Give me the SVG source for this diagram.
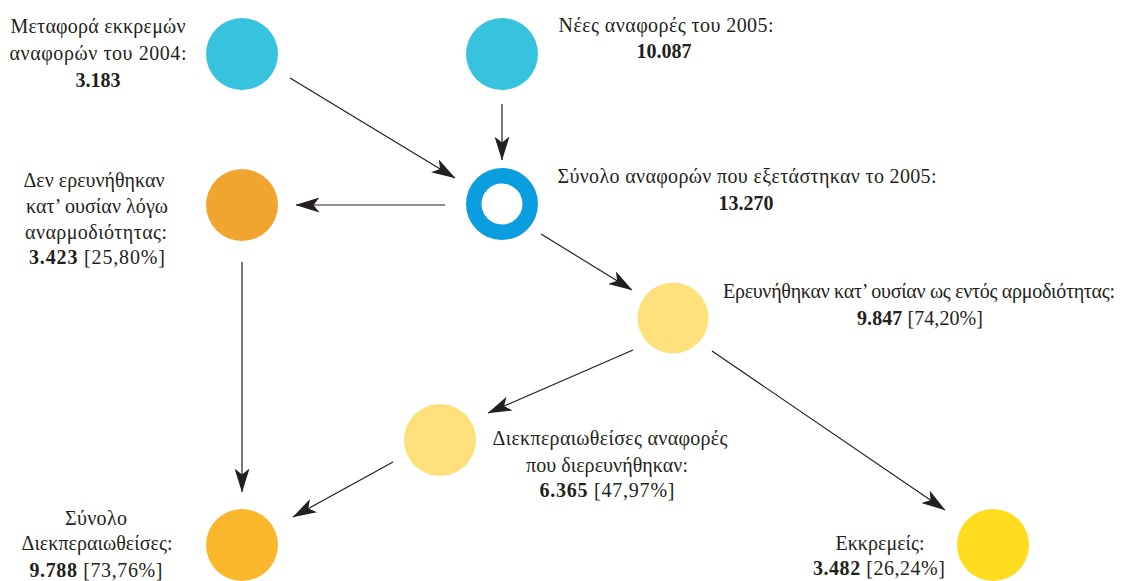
<svg xmlns="http://www.w3.org/2000/svg" width="1147" height="581" viewBox="0 0 1147 581">
<style>
text{font-family:"Liberation Serif","DejaVu Serif",serif;font-size:20px;fill:#231f20;text-anchor:middle}
.b{font-weight:bold}
.c{stroke:#231f20;stroke-width:1.2;fill:none;marker-end:url(#ah)}
</style>
<defs>
<marker id="ah" viewBox="0 0 24 15" refX="23.5" refY="7.5" markerWidth="24" markerHeight="15" markerUnits="userSpaceOnUse" orient="auto">
<path d="M0,0 L24,7.5 L0,15 L6,7.5 Z" fill="#231f20"/>
</marker>
</defs>
<rect width="1147" height="581" fill="#ffffff"/>
<g id="connectors">
<line class="c" x1="290" y1="78" x2="455" y2="178"/>
<line class="c" x1="502" y1="104" x2="502" y2="160"/>
<line class="c" x1="445" y1="205" x2="296" y2="205"/>
<line class="c" x1="541" y1="234" x2="632" y2="290"/>
<line class="c" x1="633" y1="350" x2="488" y2="413"/>
<line class="c" x1="712" y1="351" x2="945" y2="510"/>
<line class="c" x1="242" y1="262" x2="242" y2="492"/>
<line class="c" x1="393" y1="462" x2="293" y2="517"/>
</g>
<g id="n1">
<circle cx="242" cy="54" r="36" fill="#37c3de"/>
<text x="98" y="33" textLength="175">Μεταφορά εκκρεμών</text>
<text x="98" y="60" textLength="177">αναφορών του 2004:</text>
<text x="98" y="87" class="b">3.183</text>
</g>
<g id="n2">
<circle cx="502" cy="54" r="36" fill="#37c3de"/>
<text x="666" y="32" textLength="215">Νέες αναφορές του 2005:</text>
<text x="664" y="58" class="b">10.087</text>
</g>
<g id="n3">
<circle cx="502" cy="204" r="28.2" fill="none" stroke="#0a9de0" stroke-width="15.5"/>
<text x="747" y="183" textLength="379">Σύνολο αναφορών που εξετάστηκαν το 2005:</text>
<text x="746" y="210" class="b">13.270</text>
</g>
<g id="n4">
<circle cx="242" cy="205" r="36" fill="#f2a52e"/>
<text x="94" y="187" textLength="141">Δεν ερευνήθηκαν</text>
<text x="97" y="213" textLength="142">κατ’ ουσίαν λόγω</text>
<text x="96" y="239" textLength="142">αναρμοδιότητας:</text>
<text x="97" y="264" textLength="136"><tspan class="b">3.423</tspan> [25,80%]</text>
</g>
<g id="n5">
<circle cx="673" cy="318" r="35.5" fill="#ffe07a"/>
<text x="919" y="298" textLength="392">Ερευνήθηκαν κατ’ ουσίαν ως εντός αρμοδιότητας:</text>
<text x="920" y="325" textLength="126"><tspan class="b">9.847</tspan> [74,20%]</text>
</g>
<g id="n6">
<circle cx="440" cy="440" r="36" fill="#ffe07a"/>
<text x="610" y="445" textLength="235">Διεκπεραιωθείσες αναφορές</text>
<text x="607" y="472" textLength="162">που διερευνήθηκαν:</text>
<text x="607" y="497" textLength="135"><tspan class="b">6.365</tspan> [47,97%]</text>
</g>
<g id="n7">
<circle cx="242" cy="545" r="36" fill="#fbb72b"/>
<text x="96" y="525" textLength="62">Σύνολο</text>
<text x="97" y="550" textLength="151">Διεκπεραιωθείσες:</text>
<text x="96" y="577" textLength="133"><tspan class="b">9.788</tspan> [73,76%]</text>
</g>
<g id="n8">
<circle cx="993" cy="545" r="36" fill="#ffdd1e"/>
<text x="880" y="550" textLength="89">Εκκρεμείς:</text>
<text x="879" y="575" textLength="132"><tspan class="b">3.482</tspan> [26,24%]</text>
</g>
</svg>
